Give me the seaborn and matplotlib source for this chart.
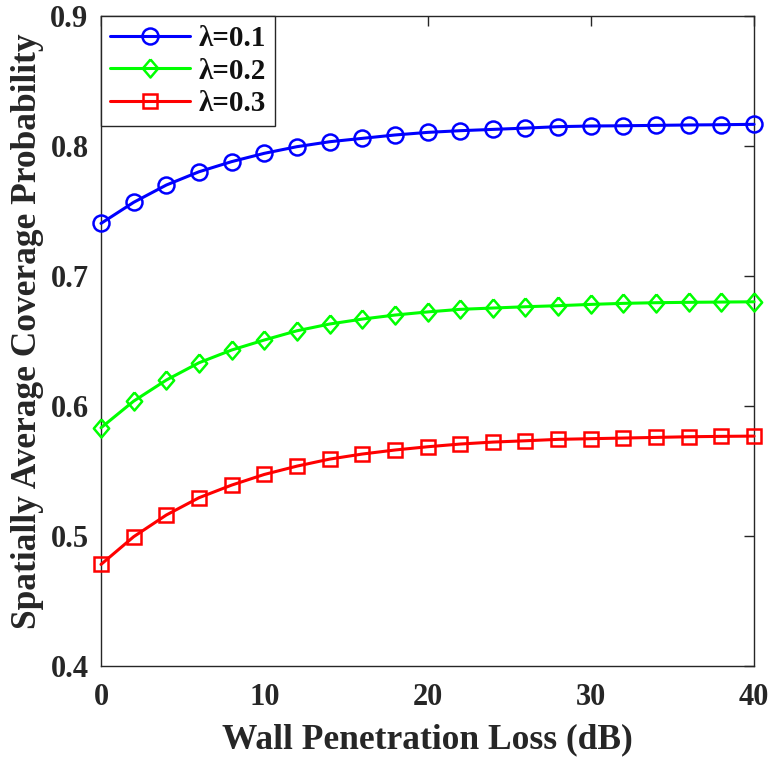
import matplotlib
matplotlib.use("Agg")
import matplotlib.pyplot as plt
import seaborn as sns
import pandas as pd
from matplotlib.lines import Line2D

# Wall penetration loss (dB)
loss_db = [0, 2, 4, 6, 8, 10, 12, 14, 16, 18, 20, 22, 24, 26, 28, 30, 32, 34, 36, 38, 40]

# Spatially average coverage probability per BS density
cov_lambda_01 = [0.7405, 0.7567, 0.7700, 0.7802, 0.7880, 0.7944, 0.7995, 0.8033, 0.8059,
                 0.8085, 0.8105, 0.8118, 0.8128, 0.8138, 0.8149, 0.8154, 0.8156, 0.8159,
                 0.8162, 0.8164, 0.8167]
cov_lambda_02 = [0.5833, 0.6038, 0.6200, 0.6333, 0.6431, 0.6508, 0.6579, 0.6631, 0.6669,
                 0.6700, 0.6724, 0.6744, 0.6754, 0.6764, 0.6772, 0.6782, 0.6790, 0.6795,
                 0.6798, 0.6800, 0.6802]
cov_lambda_03 = [0.4782, 0.4995, 0.5162, 0.5295, 0.5392, 0.5474, 0.5538, 0.5592, 0.5631,
                 0.5662, 0.5687, 0.5708, 0.5723, 0.5733, 0.5744, 0.5749, 0.5754, 0.5759,
                 0.5764, 0.5767, 0.5769]

labels = ["λ=0.1", "λ=0.2", "λ=0.3"]
x_ticks = [0, 10, 20, 30, 40]
y_ticks = [0.4, 0.5, 0.6, 0.7, 0.8, 0.9]

sns.set_theme(style="white")
serif = ["Liberation Serif", "DejaVu Serif"]
plt.rcParams["font.family"] = serif
plt.rcParams["font.weight"] = "bold"

fig = plt.figure(figsize=(7.71, 7.63), dpi=100)
ax = fig.add_axes([0.131, 0.127, 0.847, 0.852])

# slightly tall diamond, like MATLAB's 'd' marker
tall_diamond = [(0, 1), (0.85, 0), (0, -1), (-0.85, 0), (0, 1)]

series = [
    (labels[0], cov_lambda_01, "#0000ff", "o", 11.5),
    (labels[1], cov_lambda_02, "#00ff00", tall_diamond, 13),
    (labels[2], cov_lambda_03, "#ff0000", "s", 9.5),
]

handles = []
for name, vals, color, marker, ms in series:
    df = pd.DataFrame({"loss": loss_db, "cov": vals})
    sns.lineplot(data=df, x="loss", y="cov", ax=ax, color=color, linewidth=2.2,
                 marker=marker, markersize=ms, markerfacecolor="none",
                 markeredgecolor=color, markeredgewidth=1.8, clip_on=False,
                 zorder=3)
    handles.append(Line2D([], [], color=color, linewidth=2.2, marker=marker,
                          markersize=ms, markerfacecolor="none",
                          markeredgecolor=color, markeredgewidth=1.8))

ax.set_xlim(0, 40)
ax.set_ylim(0.4, 0.9)
ax.set_xticks(x_ticks)
ax.set_yticks(y_ticks)
ax.set_xticklabels([str(t) for t in x_ticks])
ax.set_yticklabels([f"{t:.1f}" for t in y_ticks])

for sp in ax.spines.values():
    sp.set_visible(True)
    sp.set_color("#262626")
    sp.set_linewidth(1.0)

ax.tick_params(axis="both", which="both", direction="in", length=7, width=1.0,
               color="#262626", top=True, right=True, labelsize=22,
               labelcolor="#262626")
ax.tick_params(axis="x", pad=12)
ax.tick_params(axis="y", pad=9)
for lab in ax.get_xticklabels() + ax.get_yticklabels():
    lab.set_fontweight("bold")

ax.set_xlabel("Wall Penetration Loss (dB)", fontsize=25.5, fontweight="bold",
              color="#262626", labelpad=8)
ax.set_ylabel("Spatially Average Coverage Probability", fontsize=25.5,
              fontweight="bold", color="#262626")
ax.yaxis.set_label_coords(-0.088, 0.515)

leg = ax.legend(handles, labels, loc="upper left",
                frameon=True, fancybox=False, framealpha=1, edgecolor="#262626",
                borderaxespad=0.0, handlelength=2.75, handletextpad=0.3,
                labelspacing=0.2, borderpad=0.3,
                prop={"family": serif, "weight": "bold", "size": 21})
for t in leg.get_texts():
    t.set_fontweight("bold")
    t.set_color("#111111")
leg.get_frame().set_linewidth(1.0)
ax.grid(False)

fig.savefig("out.png", dpi=100, facecolor="white")
